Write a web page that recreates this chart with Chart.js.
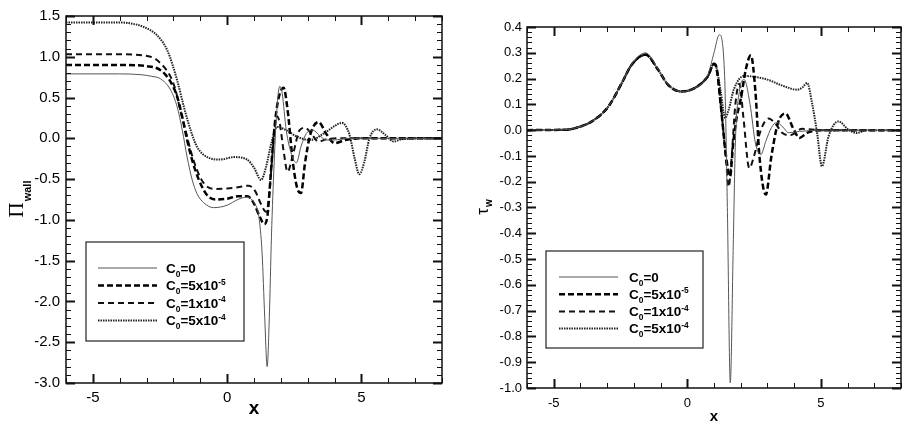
<!DOCTYPE html>
<html>
<head>
<meta charset="utf-8">
<script src="https://cdn.jsdelivr.net/npm/chart.js@4.4.1/dist/chart.umd.min.js"></script>
<style>
  body { margin: 0; background: #fff; }
  #wrap { position: relative; width: 914px; height: 428px; }
  .panel { position: absolute; top: 0; width: 457px; height: 428px; }
</style>
</head>
<body>
<div id="wrap">
  <div class="panel" style="left:0"><canvas id="pi" width="457" height="428"></canvas></div>
  <div class="panel" style="left:457px"><canvas id="tau" width="457" height="428"></canvas></div>
</div>
<script>
// series names (shared by both panels)
const seriesNames = ["C₀=0", "C₀=5x10⁻⁵", "C₀=1x10⁻⁴", "C₀=5x10⁻⁴"];

// tick labels
const xTicks = [-5, 0, 5];
const piTicks = [-3.0, -2.5, -2.0, -1.5, -1.0, -0.5, 0.0, 0.5, 1.0, 1.5];
const tauTicks = [-1.0, -0.9, -0.8, -0.7, -0.6, -0.5, -0.4, -0.3, -0.2, -0.1, 0.0, 0.1, 0.2, 0.3, 0.4];

// left panel: wall pressure
const piX0 = [-6, -4, -3.2, -2.8, -2.48, -2.1, -1.86, -1.67, -1.49, -1.3, -1.12, -0.87, -0.5, 0, 0.4, 0.74, 1.0, 1.18, 1.3, 1.4, 1.49, 1.57, 1.65, 1.75, 1.85, 1.96, 2.05, 2.2, 2.4, 2.58, 2.75, 2.95, 3.2, 3.45, 3.7, 4.0, 4.5, 8];
const piY0 = [0.79, 0.79, 0.78, 0.76, 0.73, 0.59, 0.385, 0.10, -0.23, -0.51, -0.68, -0.79, -0.85, -0.82, -0.75, -0.72, -0.79, -0.96, -1.4, -2.2, -2.8, -2.2, -1.2, -0.3, 0.35, 0.64, 0.55, 0.1, -0.2, -0.3, -0.1, 0.06, 0.1, 0.03, -0.02, -0.02, 0, 0];

const piX1 = [-6, -4, -3, -2.48, -2.1, -1.86, -1.67, -1.49, -1.3, -1.05, -0.74, -0.37, 0, 0.4, 0.75, 1.0, 1.2, 1.38, 1.5, 1.6, 1.7, 1.8, 1.92, 2.1, 2.25, 2.45, 2.6, 2.75, 2.9, 3.1, 3.4, 3.7, 4.0, 4.4, 5, 8];
const piY1 = [0.9, 0.9, 0.885, 0.835, 0.69, 0.51, 0.26, -0.02, -0.27, -0.51, -0.70, -0.75, -0.74, -0.71, -0.71, -0.80, -0.95, -1.05, -0.95, -0.55, -0.1, 0.25, 0.5, 0.62, 0.35, -0.3, -0.6, -0.67, -0.3, 0.05, 0.2, 0.05, -0.06, -0.02, 0, 0];

const piX2 = [-6, -4, -2.85, -2.48, -2.1, -1.92, -1.74, -1.55, -1.36, -1.12, -0.87, -0.5, 0, 0.4, 0.8, 1.05, 1.25, 1.45, 1.55, 1.65, 1.75, 1.85, 1.95, 2.1, 2.25, 2.45, 2.7, 2.9, 3.15, 3.4, 3.7, 4.2, 8];
const piY2 = [1.03, 1.03, 1.0, 0.92, 0.75, 0.59, 0.34, 0.10, -0.15, -0.39, -0.55, -0.62, -0.615, -0.6, -0.58, -0.65, -0.8, -0.9, -0.75, -0.35, 0.05, 0.27, 0.2, -0.15, -0.41, -0.2, 0.1, 0.13, 0.05, -0.04, -0.01, 0, 0];

const piX3 = [-6, -4, -3.7, -3.1, -2.6, -2.23, -1.86, -1.61, -1.36, -1.12, -0.74, -0.25, 0.25, 0.74, 1.0, 1.26, 1.45, 1.65, 1.86, 2.2, 2.6, 3.1, 3.6, 4.0, 4.27, 4.55, 4.75, 4.92, 5.1, 5.3, 5.58, 5.9, 6.2, 6.5, 8];
const piY3 = [1.42, 1.42, 1.415, 1.365, 1.26, 1.08, 0.71, 0.385, 0.10, -0.105, -0.23, -0.26, -0.23, -0.26, -0.36, -0.51, -0.35, -0.05, 0.14, 0.1, 0.02, -0.02, 0.06, 0.15, 0.19, 0.05, -0.25, -0.44, -0.3, 0.0, 0.11, 0.04, -0.04, -0.01, 0];

// right panel: wall shear stress
const tauX0 = [-6, -4.5, -4.19, -3.57, -2.95, -2.45, -2.08, -1.56, -1.09, -0.72, -0.22, 0.27, 0.77, 1.0, 1.2, 1.39, 1.5, 1.61, 1.72, 1.8, 1.95, 2.13, 2.35, 2.55, 2.75, 2.95, 3.15, 3.35, 3.55, 3.8, 4.2, 5, 8];
const tauY0 = [0, 0.002, 0.008, 0.034, 0.092, 0.183, 0.256, 0.3, 0.236, 0.176, 0.150, 0.163, 0.215, 0.30, 0.37, 0.23, -0.3, -0.98, -0.45, -0.05, 0.15, 0.196, 0.1, -0.05, -0.095, -0.04, 0.01, 0.03, 0.015, -0.01, -0.005, 0, 0];

const tauX1 = [-6, -4.5, -4.19, -3.57, -2.95, -2.45, -2.08, -1.56, -1.09, -0.72, -0.22, 0.27, 0.77, 1.0, 1.1, 1.25, 1.45, 1.6, 1.72, 1.85, 2.0, 2.2, 2.38, 2.55, 2.7, 2.94, 3.15, 3.4, 3.68, 3.95, 4.2, 4.5, 5, 8];
const tauY1 = [0, 0.002, 0.008, 0.034, 0.092, 0.183, 0.254, 0.293, 0.234, 0.176, 0.150, 0.163, 0.209, 0.257, 0.24, 0.1, -0.1, -0.18, -0.05, 0.05, 0.12, 0.24, 0.29, 0.15, -0.1, -0.25, -0.1, 0.03, 0.065, 0.01, -0.03, -0.01, 0, 0];

const tauX2 = [-6, -4.5, -4.19, -3.57, -2.95, -2.45, -2.08, -1.56, -1.09, -0.72, -0.22, 0.27, 0.77, 1.0, 1.1, 1.3, 1.45, 1.55, 1.65, 1.8, 1.95, 2.1, 2.32, 2.5, 2.75, 3.05, 3.3, 3.55, 3.85, 4.3, 5, 8];
const tauY2 = [0, 0.002, 0.008, 0.034, 0.092, 0.183, 0.254, 0.292, 0.234, 0.176, 0.150, 0.163, 0.209, 0.257, 0.23, 0.05, -0.12, -0.22, -0.12, 0.1, 0.18, 0.05, -0.147, -0.1, 0.0, 0.045, 0.025, -0.01, -0.02, 0.005, 0, 0];

const tauX3 = [-6, -4.5, -4.19, -3.57, -2.95, -2.45, -2.08, -1.56, -1.09, -0.72, -0.22, 0.27, 0.77, 1.0, 1.1, 1.25, 1.42, 1.55, 1.75, 2.13, 3.0, 3.5, 4.12, 4.3, 4.49, 4.67, 4.86, 5.04, 5.29, 5.66, 6.03, 6.35, 6.7, 8];
const tauY3 = [0, 0.002, 0.008, 0.034, 0.092, 0.183, 0.254, 0.292, 0.234, 0.176, 0.150, 0.163, 0.209, 0.257, 0.24, 0.15, 0.047, 0.08, 0.16, 0.21, 0.196, 0.175, 0.157, 0.165, 0.183, 0.105, -0.011, -0.14, -0.024, 0.034, 0.002, -0.011, 0, 0];

const lineStyles = [
    { borderColor: "#555", borderWidth: 1, borderDash: [] },
    { borderColor: "#000", borderWidth: 2.5, borderDash: [6, 3] },
    { borderColor: "#111", borderWidth: 2, borderDash: [6, 4] },
    { borderColor: "#222", borderWidth: 2, borderDash: [1.5, 1] },
];

const pts = (xs, ys) => xs.map((x, i) => ({ x: x, y: ys[i] }));

// draws "C₀=5x10⁻⁵" with real sub/superscripts
function drawRich(ctx, s, x, y, size, weight) {
    const sub = { "₀": "0" };
    const sup = { "⁻": "-", "⁴": "4", "⁵": "5" };
    for (const ch of s) {
        let t = ch, dy = 0, f = size;
        if (sub[ch]) { t = sub[ch]; dy = size * 0.28; f = size * 0.62; }
        else if (sup[ch]) { t = sup[ch]; dy = -size * 0.42; f = size * 0.62; }
        ctx.font = `${weight} ${f}px "Liberation Sans"`;
        ctx.fillText(t, x, y + dy);
        x += ctx.measureText(t).width;
    }
}

// box around plot with inward major/minor ticks on all four sides
const frame = {
    id: "frame",
    afterDatasetsDraw(chart, args, o) {
        const { ctx, chartArea: a, scales: { x, y } } = chart;
        ctx.save();
        ctx.strokeStyle = "#111";
        ctx.setLineDash([]);
        const seg = (x1, y1, x2, y2, w) => {
            ctx.lineWidth = w;
            ctx.beginPath(); ctx.moveTo(x1, y1); ctx.lineTo(x2, y2); ctx.stroke();
        };
        const isMajor = (v, step) => Math.abs(v / step - Math.round(v / step)) < 1e-6;
        let n = Math.round((x.max - x.min) / o.xMinor);
        for (let i = 0; i <= n; i++) {
            const v = x.min + i * o.xMinor;
            const px = Math.round(x.getPixelForValue(v)) + 0.5;
            const big = isMajor(v, o.xMajor);
            const len = big ? 9 : 5, w = big ? 2 : 1;
            seg(px, a.bottom, px, a.bottom - len, w);
            seg(px, a.top, px, a.top + len, w);
        }
        n = Math.round((y.max - y.min) / o.yMinor);
        for (let i = 0; i <= n; i++) {
            const v = y.min + i * o.yMinor;
            const py = Math.round(y.getPixelForValue(v)) + 0.5;
            const big = isMajor(v, o.yMajor);
            const len = big ? 9 : 5, w = big ? 2 : 1;
            seg(a.left, py, a.left + len, py, w);
            seg(a.right, py, a.right - len, py, w);
        }
        ctx.lineWidth = 1.5;
        ctx.strokeRect(a.left, a.top, a.right - a.left, a.bottom - a.top);

        // rotated y title with subscript
        const t = o.title;
        ctx.save();
        ctx.translate(t.x, (a.top + a.bottom) / 2);
        ctx.rotate(-Math.PI / 2);
        ctx.fillStyle = "#000";
        ctx.font = t.mainFont;
        const w1 = ctx.measureText(t.main).width;
        ctx.font = t.subFont;
        const w2 = ctx.measureText(t.sub).width;
        let sx = -(w1 + w2) / 2;
        ctx.font = t.mainFont;
        ctx.fillText(t.main, sx, 0);
        ctx.font = t.subFont;
        ctx.fillText(t.sub, sx + w1 + 1, t.subDy);
        ctx.restore();
        ctx.restore();
    },
};

// boxed legend inside the plot
const boxLegend = {
    id: "boxLegend",
    afterDatasetsDraw(chart, args, o) {
        const ctx = chart.ctx;
        ctx.save();
        ctx.fillStyle = "#fff";
        ctx.fillRect(o.left, o.top, o.width, o.height);
        ctx.strokeStyle = "#222";
        ctx.lineWidth = 1.2;
        ctx.setLineDash([]);
        ctx.strokeRect(o.left, o.top, o.width, o.height);
        chart.data.datasets.forEach((ds, i) => {
            const yy = o.top + o.first + i * o.gap;
            ctx.strokeStyle = ds.borderColor;
            ctx.lineWidth = ds.borderWidth;
            ctx.setLineDash(ds.borderDash);
            ctx.beginPath();
            ctx.moveTo(o.left + o.lineFrom, yy);
            ctx.lineTo(o.left + o.lineTo, yy);
            ctx.stroke();
            ctx.fillStyle = "#000";
            ctx.textBaseline = "alphabetic";
            drawRich(ctx, ds.label, o.left + o.textAt, yy + o.fontSize * 0.36, o.fontSize, "bold");
        });
        ctx.restore();
    },
};

function makeChart(id, series, yTicks, cfg) {
    const datasets = series.map((s, i) => ({
        label: seriesNames[i],
        data: pts(s[0], s[1]),
        borderColor: lineStyles[i].borderColor,
        borderWidth: lineStyles[i].borderWidth,
        borderDash: lineStyles[i].borderDash,
        fill: false,
    }));
    return new Chart(document.getElementById(id), {
        type: "line",
        data: { datasets: datasets },
        plugins: [frame, boxLegend],
        options: {
            responsive: false,
            animation: false,
            layout: { padding: cfg.padding },
            elements: {
                line: { cubicInterpolationMode: "monotone" },
                point: { radius: 0, hoverRadius: 0 },
            },
            scales: {
                x: {
                    type: "linear",
                    min: -6,
                    max: 8,
                    afterBuildTicks: (s) => { s.ticks = xTicks.map((v) => ({ value: v })); },
                    afterFit: (s) => { s.height = cfg.xHeight; },
                    grid: { display: false, drawTicks: false },
                    border: { display: false },
                    ticks: {
                        padding: cfg.xPad,
                        color: "#000",
                        font: { family: "Liberation Sans", size: cfg.tickSize },
                        maxRotation: 0,
                    },
                    title: {
                        display: true,
                        text: "x",
                        color: "#000",
                        font: { family: "Liberation Sans", size: cfg.xTitleSize, weight: "bold" },
                        padding: { top: 0, bottom: cfg.xTitlePad },
                    },
                },
                y: {
                    min: yTicks[0],
                    max: yTicks[yTicks.length - 1],
                    afterBuildTicks: (s) => { s.ticks = yTicks.map((v) => ({ value: v })); },
                    afterFit: (s) => { s.width = cfg.yWidth; },
                    grid: { display: false, drawTicks: false },
                    border: { display: false },
                    ticks: {
                        padding: cfg.yPad,
                        color: "#000",
                        font: { family: "Liberation Sans", size: cfg.tickSize },
                        callback: (v) => Number(v).toFixed(1),
                    },
                },
            },
            plugins: {
                legend: { display: false },
                tooltip: { enabled: false },
                frame: cfg.frame,
                boxLegend: cfg.legend,
            },
        },
    });
}

makeChart("pi", [[piX0, piY0], [piX1, piY1], [piX2, piY2], [piX3, piY3]], piTicks, {
    padding: { left: 0, right: 15, top: 16, bottom: 0 },
    yWidth: 66, xHeight: 45, xPad: 6, yPad: 6, tickSize: 15,
    xTitleSize: 19, xTitlePad: 8,
    frame: {
        xMinor: 1, xMajor: 5, yMinor: 0.1, yMajor: 0.5,
        title: { x: 23, main: "Π", sub: "wall", mainFont: '21px "Liberation Serif"', subFont: 'bold 11px "Liberation Sans"', subDy: 8 },
    },
    legend: { left: 86, top: 242, width: 158, height: 99, first: 26, gap: 17.5, lineFrom: 12, lineTo: 71, textAt: 80, fontSize: 13.5 },
});

makeChart("tau", [[tauX0, tauY0], [tauX1, tauY1], [tauX2, tauY2], [tauX3, tauY3]], tauTicks, {
    padding: { left: 0, right: 13, top: 27, bottom: 0 },
    yWidth: 70, xHeight: 40, xPad: 8, yPad: 5, tickSize: 13,
    xTitleSize: 15, xTitlePad: 2,
    frame: {
        xMinor: 1, xMajor: 5, yMinor: 0.02, yMajor: 0.1,
        title: { x: 31, main: "τ", sub: "w", mainFont: '17px "Liberation Sans"', subFont: 'bold 10px "Liberation Sans"', subDy: 4 },
    },
    legend: { left: 89, top: 251, width: 157, height: 97, first: 26, gap: 17.2, lineFrom: 13, lineTo: 72, textAt: 83, fontSize: 13.5 },
});
</script>
</body>
</html>
